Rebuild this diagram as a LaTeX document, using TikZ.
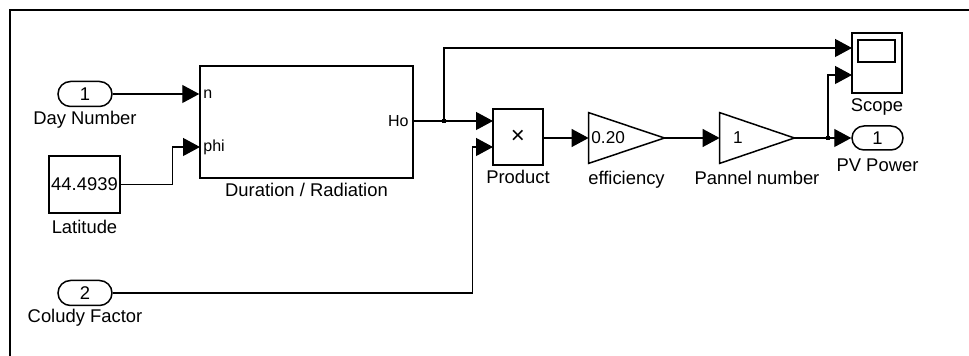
\documentclass[tikz,border=0pt]{standalone}
\usepackage{fontspec}
\setmainfont{Liberation Sans}
\usetikzlibrary{arrows.meta,shapes.misc}
\newcommand{\lblfont}{\fontsize{9.2}{11}\selectfont}
\newcommand{\pinfont}{\fontsize{8}{9}\selectfont}
\tikzset{
  blk/.style={draw, line width=0.75pt, inner sep=0pt, font=\lblfont},
  iop/.style={draw, rounded rectangle, line width=0.75pt, inner sep=0pt,
    minimum width=27pt, minimum height=12.5pt, font=\lblfont},
  lbl/.style={inner sep=0pt, font=\lblfont},
  pin/.style={inner sep=0pt, font=\pinfont},
  wire/.style={line width=0.6pt},
  sig/.style={wire, -{Triangle[length=8.5pt,width=9pt]}},
  jdot/.style={fill, minimum size=2.4pt, inner sep=0pt}
}
\begin{document}
\begin{tikzpicture}[x=0.5pt,y=-0.5pt]
\useasboundingbox (0,0) rectangle (969,356);
% Draw frame
\draw[line width=1pt] (969,10) -- (10,10) -- (10,356);

% Draw sources
\node[iop] (dn) at (85,94) {1};
\node[lbl] (dnl) at (85,120) {Day Number};
\node[blk, minimum width=35.5pt, minimum height=28.5pt] (lat) at (84.5,184.5) {44.4939};
\node[lbl] (latl) at (84.5,227) {Latitude};
\node[iop] (cf) at (85,293) {2};
\node[lbl] (cfl) at (85,318) {Coludy Factor};

% Draw subsystem
\node[blk, minimum width=106.5pt, minimum height=56pt] (dur) at (306.5,122) {};
\node[lbl] (durl) at (306.5,190) {Duration / Radiation};
\node[pin, anchor=west] (pn) at (203,94) {n};
\node[pin, anchor=west] (pphi) at (203,147) {phi};
\node[pin, anchor=east] (pho) at (409,121) {Ho};

% Draw product and gains
\node[blk, minimum width=25pt, minimum height=28pt] (prod) at (518,137) {\fontsize{12}{14}\selectfont ×};
\node[lbl] (prodl) at (518,177) {Product};
\node[minimum width=37.5pt, minimum height=25pt, inner sep=0pt] (eff) at (626.5,138) {};
\draw[line width=0.75pt] (eff.north west) -- (eff.east) -- (eff.south west) -- cycle;
\node[pin, anchor=west] (effv) at (591,138) {\fontsize{8.6}{10}\selectfont 0.20};
\node[lbl] (effl) at (626.5,180) {efficiency};
\node[minimum width=37pt, minimum height=25pt, inner sep=0pt] (pan) at (757,138) {};
\draw[line width=0.75pt] (pan.north west) -- (pan.east) -- (pan.south west) -- cycle;
\node[pin] (panv) at (738,138) {\fontsize{8.6}{10}\selectfont 1};
\node[lbl] (panl) at (757,178) {Pannel number};

% Draw sinks
\node[blk, minimum width=25pt, minimum height=30pt] (scope) at (877,63) {};
\node[draw, line width=0.75pt, minimum width=18.5pt, minimum height=11pt, inner sep=0pt] (scr) at (876.5,51) {};
\node[lbl] (scopel) at (877,107) {Scope};
\node[iop, minimum width=25.5pt, minimum height=12pt] (pv) at (877.5,138) {1};
\node[lbl] (pvl) at (877.5,165) {PV Power};

% Junctions and ports
\node[jdot] (j1) at (444,121) {};
\node[jdot] (j2) at (828,138) {};
\coordinate (phin) at (200,147);
\coordinate (pin1) at (493,121);
\coordinate (pin2) at (493,147);
\coordinate (sin1) at (852,48);
\coordinate (sin2) at (852,75);

% Connect blocks
\draw[sig] (dn.east) -- (dn -| dur.west);
\draw[sig] (lat.east) -- ++(52,0) |- (phin);
\draw[wire] (dur.east |- j1) -- (j1.center);
\draw[sig] (j1.center) -- (pin1);
\draw[sig] (j1.center) |- (sin1);
\draw[sig] (cf.east) -- ++(360,0) |- (pin2);
\draw[sig] (prod.east |- eff) -- (eff.west);
\draw[sig] (eff.east) -- (pan.west);
\draw[wire] (pan.east) -- (j2.center);
\draw[sig] (j2.center) -- (pv.west);
\draw[sig] (j2.center) |- (sin2);
\end{tikzpicture}
\end{document}
